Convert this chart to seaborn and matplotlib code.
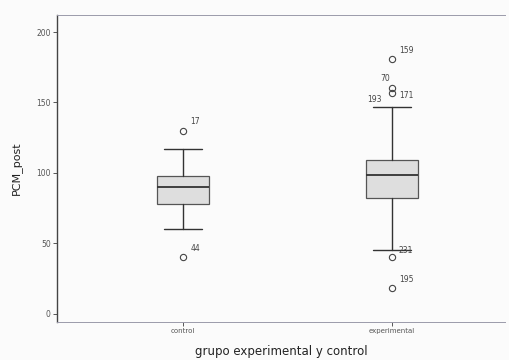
import matplotlib
matplotlib.use("Agg")
import matplotlib.pyplot as plt
import seaborn as sns

groups = ["control", "experimental"]
q1 = [78, 82]
median = [90, 98.5]
q3 = [98, 109]
whisker_low = [60, 45]
whisker_high = [117, 147]
outliers = [[130, 40], [181, 160, 157, 40, 18]]
outlier_ids = [["17", "44"], ["159", "70", "171", "231", "195"]]
yticks = [0, 50, 100, 150, 200]

sns.set_style("white")
plt.rcParams['font.family'] = ['DejaVu Sans']

fig = plt.figure(figsize=(5.09, 3.6), dpi=100)
fig.patch.set_facecolor("#fbfbfb")
ax = fig.add_axes([0.112, 0.106, 0.88, 0.852])
ax.set_facecolor("#fbfbfb")

stats = []
for i, g in enumerate(groups):
    stats.append(dict(label=g, med=median[i], q1=q1[i], q3=q3[i],
                      whislo=whisker_low[i], whishi=whisker_high[i],
                      fliers=outliers[i]))

ax.bxp(stats, positions=range(len(groups)), widths=0.25, patch_artist=True,
       boxprops=dict(facecolor="#dedede", edgecolor="#555555", linewidth=0.9),
       medianprops=dict(color="#333333", linewidth=1.3),
       whiskerprops=dict(color="#333333", linewidth=1.0),
       capprops=dict(color="#333333", linewidth=1.0),
       capwidths=0.18,
       flierprops=dict(marker="o", markerfacecolor="none", markeredgecolor="#444444",
                       markersize=4.5, markeredgewidth=0.8))

# label placement offsets (x in data units, y in data units, ha)
label_offsets = {
    "17": (0.035, 3, "left"), "44": (0.035, 3, "left"),
    "159": (0.035, 3, "left"), "70": (-0.055, 4, "left"),
    "171": (0.035, -5, "left"), "231": (0.03, 2, "left"),
    "195": (0.035, 3, "left"),
}
for i in range(len(groups)):
    for v, lab in zip(outliers[i], outlier_ids[i]):
        dx, dy, ha = label_offsets[lab]
        ax.text(i + dx, v + dy, lab, fontsize=5.5, color="#444444", va="bottom", ha=ha)
# label of the whisker-top case in experimental group
ax.text(1 - 0.12, whisker_high[1] + 2, "193", fontsize=5.5, color="#444444", va="bottom", ha="left")

ax.set_xlim(-0.603, 1.54)
ax.set_ylim(-5.7, 212)
ax.set_yticks(yticks)
ax.set_yticklabels([str(t) for t in yticks], fontsize=5.5, color="#555555")
ax.set_xticks(range(len(groups)))
ax.set_xticklabels(groups, fontsize=5, color="#555555")
ax.tick_params(axis="both", length=3, width=0.7, color="#555555", pad=1.5, left=True, bottom=True)

ax.spines["top"].set_color("#9a9aaa")
ax.spines["top"].set_linewidth(0.7)
ax.spines["top"].set_linestyle((0, (3, 1)))
ax.spines["right"].set_visible(False)
ax.spines["left"].set_color("#444444")
ax.spines["left"].set_linewidth(1.0)
ax.spines["bottom"].set_color("#9a9aaa")
ax.spines["bottom"].set_linewidth(0.7)
ax.spines["bottom"].set_linestyle((0, (3, 1)))

ax.set_ylabel("PCM_post", fontsize=8, color="#222222", labelpad=10)
ax.set_xlabel("grupo experimental y control", fontsize=8.5, color="#222222", labelpad=8)

fig.savefig("out.png", dpi=100)
